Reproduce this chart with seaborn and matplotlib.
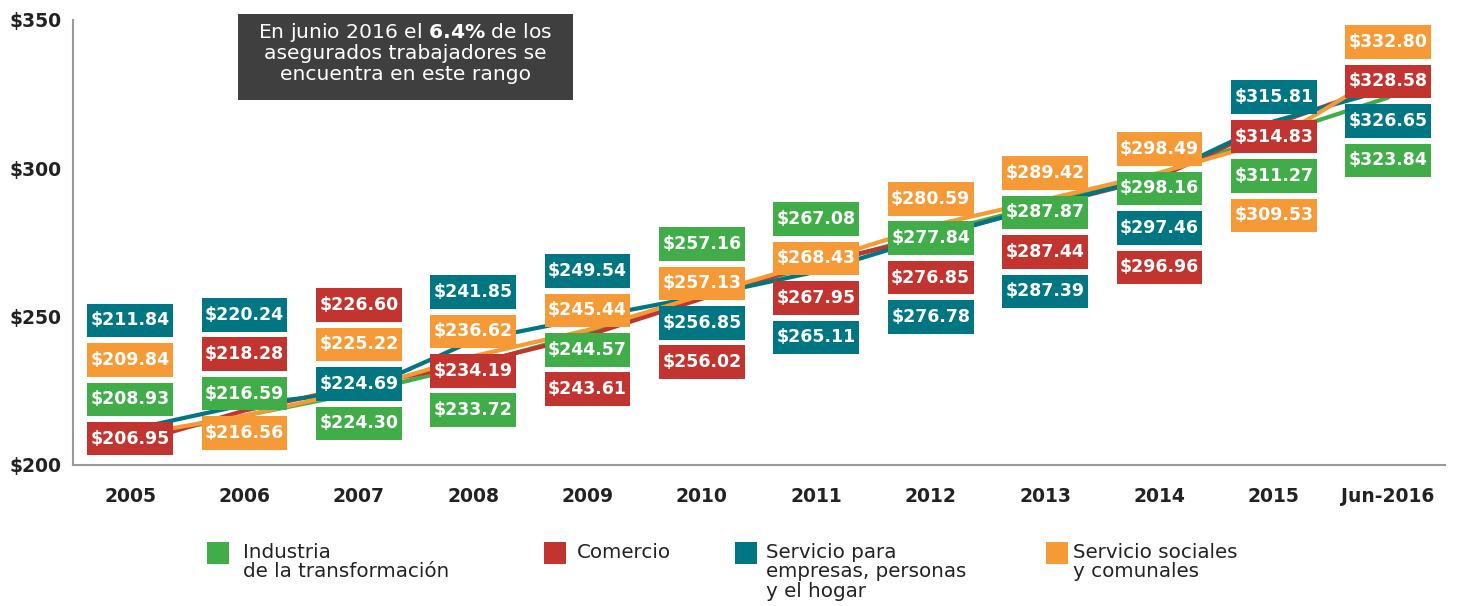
import numpy as np
import pandas as pd
import seaborn as sns
import matplotlib
matplotlib.use("Agg")
from matplotlib import pyplot as plt
from matplotlib.patches import Rectangle

years = ["2005", "2006", "2007", "2008", "2009", "2010", "2011", "2012",
         "2013", "2014", "2015", "Jun-2016"]
industria = [208.93, 216.59, 224.30, 233.72, 244.57, 257.16, 267.08, 277.84,
             287.87, 298.16, 311.27, 323.84]
comercio = [206.95, 218.28, 226.60, 234.19, 243.61, 256.02, 267.95, 276.85,
            287.44, 296.96, 314.83, 328.58]
serv_empresas = [211.84, 220.24, 224.69, 241.85, 249.54, 256.85, 265.11, 276.78,
                 287.39, 297.46, 315.81, 326.65]
serv_sociales = [209.84, 216.56, 225.22, 236.62, 245.44, 257.13, 268.43, 280.59,
                 289.42, 298.49, 309.53, 332.80]

sectors = ["ind", "com", "emp", "soc"]
legend_labels = ["Industria\nde la transformación", "Comercio",
                 "Servicio para\nempresas, personas\ny el hogar",
                 "Servicio sociales\ny comunales"]
colors = {"ind": "#41ad49", "com": "#c1342f", "emp": "#007682", "soc": "#f59a36"}

# label stacks: y of the top box (data units) and order top->bottom
stack_top = [248.7, 250.6, 253.9, 258.3, 265.4, 274.5, 282.9, 289.7,
             298.4, 306.5, 324.0, 342.6]
stack_order = [
    ["emp", "soc", "ind", "com"],
    ["emp", "com", "ind", "soc"],
    ["com", "soc", "emp", "ind"],
    ["emp", "soc", "com", "ind"],
    ["emp", "soc", "ind", "com"],
    ["ind", "soc", "emp", "com"],
    ["ind", "soc", "com", "emp"],
    ["soc", "ind", "com", "emp"],
    ["soc", "ind", "com", "emp"],
    ["soc", "ind", "emp", "com"],
    ["emp", "com", "ind", "soc"],
    ["soc", "com", "emp", "ind"],
]

values = {"ind": industria, "com": comercio, "emp": serv_empresas, "soc": serv_sociales}

df = pd.DataFrame({
    "x": np.tile(np.arange(len(years)), len(sectors)),
    "valor": industria + comercio + serv_empresas + serv_sociales,
    "sector": np.repeat(sectors, len(years)),
})

sns.set_style("white")
plt.rcParams["font.family"] = ["DejaVu Sans"]
plt.rcParams["mathtext.fontset"] = "custom"
plt.rcParams["mathtext.bf"] = "DejaVu Sans:bold"
plt.rcParams["mathtext.rm"] = "DejaVu Sans"

fig = plt.figure(figsize=(14.57, 6.06), dpi=100)
ax = fig.add_axes([0.050, 0.233, 0.942, 0.734])

sns.lineplot(data=df, x="x", y="valor", hue="sector", hue_order=sectors,
             palette=colors, linewidth=3.0, legend=False, ax=ax, zorder=2)

bw, bh, step = 0.75, 11.3, 13.3
for i in range(len(years)):
    for k, s in enumerate(stack_order[i]):
        yc = stack_top[i] - k * step
        ax.add_patch(Rectangle((i - bw / 2, yc - bh / 2), bw, bh,
                               facecolor=colors[s], edgecolor="none", zorder=3))
        ax.text(i, yc, "$%.2f" % values[s][i], ha="center", va="center",
                color="white", fontsize=12.5, fontweight="bold", zorder=4)

ax.set_xlim(-0.5, 11.5)
ax.set_ylim(200, 350)
ax.set_xlabel("")
ax.set_ylabel("")
ax.set_yticks([200, 250, 300, 350])
ax.set_yticklabels(["$200", "$250", "$300", "$350"], fontsize=13.5,
                   fontweight="bold", color="#222222")
ax.tick_params(axis="y", length=0, pad=8)

ax.set_xticks(np.arange(len(years) - 1) + 0.5)
ax.set_xticklabels([])
ax.tick_params(axis="x", which="major", direction="inout", length=13,
               width=1.2, color="#9a9a9a")
ax.set_xticks(np.arange(len(years)), minor=True)
ax.set_xticklabels(years, minor=True, fontsize=13.5, fontweight="bold",
                   color="#222222")
ax.tick_params(axis="x", which="minor", length=0, pad=16)

for side in ["top", "right"]:
    ax.spines[side].set_visible(False)
for side in ["left", "bottom"]:
    ax.spines[side].set_color("#9a9a9a")
    ax.spines[side].set_linewidth(1.5)

# note box
fig.patches.append(Rectangle((238 / 1457, 1 - 100 / 606), 335 / 1457, 86 / 606,
                             transform=fig.transFigure, facecolor="#3f3f3f",
                             edgecolor="none"))
note = [r"En junio 2016 el $\mathbf{6.4\%}$ de los",
        "asegurados trabajadores se", "encuentra en este rango"]
for j, line in enumerate(note):
    fig.text(405 / 1457, 1 - (33 + j * 20.5) / 606, line, ha="center",
             va="center", color="white", fontsize=14.6)

# legend
leg_sq = [207, 544, 735, 1046]
leg_tx = [243, 577, 766, 1073]
for s, lab, xs, xt in zip(sectors, legend_labels, leg_sq, leg_tx):
    fig.patches.append(Rectangle((xs / 1457, 1 - 564 / 606), 22 / 1457, 22 / 606,
                                 transform=fig.transFigure,
                                 facecolor=colors[s], edgecolor="none"))
    fig.text(xt / 1457, 1 - 543 / 606, lab, ha="left", va="top",
             fontsize=14.3, color="#222222", linespacing=1.02)

fig.savefig("out.png", dpi=100)
